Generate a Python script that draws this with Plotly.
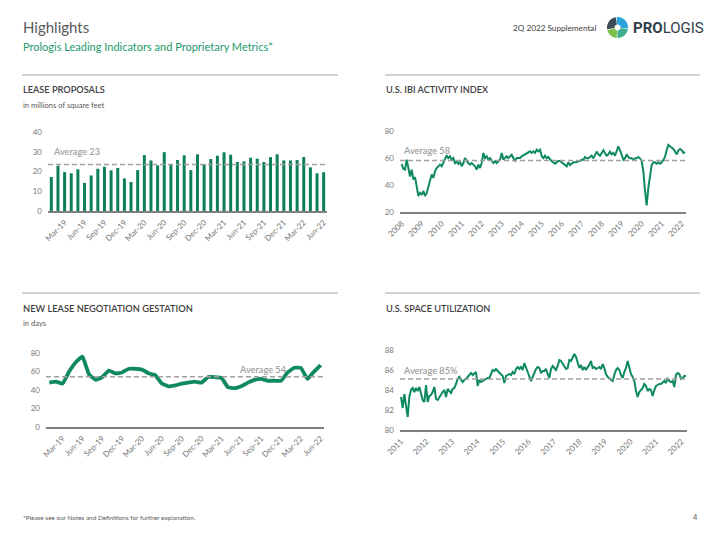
import numpy as np
import pandas as pd
import plotly.graph_objects as go

# ---------------- data ----------------
lease_months = [m.strftime("%b-%y") for m in pd.date_range("2019-01-01", "2022-06-01", freq="MS")]
lease_values = [17.2, 22.9, 19.7, 19.1, 21.1, 14.2, 18.0, 21.4, 22.4, 20.6, 21.8, 16.5, 14.7, 20.7,
                28.3, 25.6, 23.1, 29.8, 23.6, 25.8, 28.2, 20.7, 28.7, 23.8, 26.3, 28.0, 29.7, 28.5,
                24.8, 25.1, 27.0, 26.5, 24.8, 27.3, 28.7, 25.6, 25.6, 25.8, 27.3, 22.1, 19.1, 19.6]
lease_avg = 23.6
quarter_ticks = ["Mar-19", "Jun-19", "Sep-19", "Dec-19", "Mar-20", "Jun-20", "Sep-20", "Dec-20",
                 "Mar-21", "Jun-21", "Sep-21", "Dec-21", "Mar-22", "Jun-22"]

gest_months = lease_months
gest_values = [48, 49, 47, 60, 70, 76, 57, 51, 54, 61, 58, 59, 63, 63, 62, 58, 56, 47, 44, 45, 47,
               48, 49, 48, 54, 54, 53, 43, 42, 44, 48, 51, 52, 50, 50, 50, 59, 64, 64, 52, 60, 67]
gest_avg = 54.2

ibi_dates = pd.date_range("2008-01-01", periods=171, freq="MS")
ibi_values = [55.8, 52, 51.6, 59, 53, 46.5, 51.5, 44.2, 46, 40, 31.9, 34.3, 33.1, 35.6, 31.9, 34,
              39.3, 43, 47.9, 45.4, 50.4, 52.8, 54.1, 55.3, 54.1, 56.5, 59, 62.2, 60.2, 61.5, 59,
              60.2, 56.5, 57.8, 55.8, 57.3, 54.1, 56.5, 60.2, 57.8, 56.5, 55.3, 56.5, 55.3, 54.1,
              51.6, 55.3, 52.8, 56.5, 64, 60.2, 61.5, 59, 60.2, 57.8, 56.5, 57.8, 56.5, 57.8, 59,
              64, 59, 60.2, 61.5, 60.2, 61.5, 62.7, 60.2, 57.8, 60.2, 60.2, 60.2, 61.5, 62.2, 62.7,
              64, 64.7, 65.2, 64, 65.2, 64, 66.4, 65.2, 66.4, 61.5, 60.2,
              62, 60, 61, 59, 58, 57, 56, 57, 58, 58, 57, 56, 55, 54, 57, 55, 56, 57, 57, 57, 58,
              58, 59, 59, 61, 60, 60, 61, 62, 60, 63, 65, 63, 62, 64, 66, 64, 62, 63, 65, 63, 64,
              62, 66, 69, 66, 62, 59, 60, 63, 61, 60, 60, 59, 60, 60, 61, 60, 58, 50, 36, 25, 38,
              48, 55, 57, 57, 56, 57, 56, 57, 59, 61, 66, 70, 69, 68, 67, 65, 63, 66, 67, 66, 64, 65]
ibi_avg = 58.3
ibi_years = [str(y) for y in range(2008, 2023)]

util_values = [83.3, 82.2, 83.6, 82.3, 81.3, 83.3, 84.0, 84.2, 83.8, 84.2, 83.9, 84.3, 83.7, 83.0,
               82.8, 84.5, 82.8, 83.4, 83.5, 83.8, 84.3, 83.1, 83.0, 83.3, 83.6, 83.8, 84.0, 83.3,
               84.1, 83.9, 83.7, 84.1, 84.2, 84.6, 85.1, 85.3, 85.0, 84.8, 85.0, 85.1, 85.3, 85.5,
               85.7, 85.5, 85.7, 85.8, 84.4, 85.0, 84.8, 84.9, 85.0, 85.1, 85.2, 85.2, 85.6, 86.0,
               85.9, 86.1, 85.9, 85.7, 85.5, 85.4, 84.7, 85.4, 85.5, 85.6, 85.5, 85.8, 85.6, 86.1,
               86.3, 86.1, 86.3, 86.0, 86.7, 86.2, 85.7, 85.3, 84.9, 85.3, 85.8, 86.1, 86.3, 86.2,
               85.7, 85.9, 85.9,
               86.1, 85.6, 85.2, 86.1, 86.4, 86.2, 86.0, 86.4, 87.0, 86.9, 86.6, 86.4, 86.1, 86.2,
               87.0, 86.9, 87.3, 87.6, 87.3, 86.8, 86.2, 86.5, 86.0, 86.3, 86.0, 86.3, 86.5, 86.9,
               86.2, 86.3, 86.1, 86.2, 86.3, 86.1, 86.6, 86.2, 85.6, 85.3, 85.2, 85.0, 84.9, 85.5,
               86.0, 86.2, 86.0, 85.5, 85.2, 85.8, 86.2, 86.9, 86.2, 85.6, 85.3, 84.9, 83.9, 83.3,
               83.8, 84.0, 84.2, 84.6, 84.4, 83.9, 84.1, 84.0, 83.4, 84.0, 84.4, 84.5, 84.6, 84.6,
               84.8, 84.9, 84.7, 85.2, 84.9, 84.8, 84.9, 84.3, 85.5, 85.7, 85.6, 85.1, 85.2, 85.4, 85.4]
util_start, util_end = 2011.0, 2022.18
util_x = np.linspace(util_start, util_end, len(util_values))
util_avg = 85.1
util_years = list(range(2011, 2023))

# ---------------- styling ----------------
W, H = 720, 540
FONT = "Lato"
GREEN = "#0c7f56"
LINE_GREEN = "#0f8a5f"
TICK = "#787878"
AXIS = "#808080"
AVG = "#a0a0a0"


def px(x):
    return x / W


def py(y):
    return 1 - y / H


fig = go.Figure()

fig.add_trace(go.Bar(x=lease_months, y=lease_values, marker=dict(color=GREEN, line=dict(width=0)),
                     xaxis="x", yaxis="y", showlegend=False))
fig.add_trace(go.Scatter(x=ibi_dates, y=ibi_values, mode="lines", line=dict(color=LINE_GREEN, width=2),
                         xaxis="x2", yaxis="y2", showlegend=False))
fig.add_trace(go.Scatter(x=gest_months, y=gest_values, mode="lines",
                         line=dict(color=LINE_GREEN, width=3.8, shape="spline", smoothing=0.35),
                         xaxis="x3", yaxis="y3", showlegend=False))
fig.add_trace(go.Scatter(x=util_x, y=util_values, mode="lines", line=dict(color=LINE_GREEN, width=2),
                         xaxis="x4", yaxis="y4", showlegend=False))

xcommon = dict(showgrid=False, zeroline=False, showline=True, linecolor=AXIS, linewidth=1.5,
               ticks="", tickangle=-45, tickfont=dict(family=FONT, size=8, color=TICK),
               fixedrange=True, automargin=False, ticklabelstandoff=2)
ycommon = dict(showgrid=False, zeroline=False, showline=False, ticks="",
               tickfont=dict(family=FONT, size=8, color=TICK), fixedrange=True, automargin=False,
               ticklabelstandoff=5)

fig.update_layout(
    xaxis=dict(domain=[px(48), px(327)], anchor="y", type="category", range=[-0.5, 41.5],
               tickmode="array", tickvals=quarter_ticks, ticktext=quarter_ticks, **xcommon),
    yaxis=dict(domain=[py(211), py(132)], anchor="x", range=[0, 40], tickvals=[0, 10, 20, 30, 40], **ycommon),
    xaxis2=dict(domain=[px(400), px(686)], anchor="y2", type="date",
                range=["2007-12-01", "2022-03-20"], tickmode="array",
                tickvals=[f"{y}-01-01" for y in ibi_years], ticktext=ibi_years, **xcommon),
    yaxis2=dict(domain=[py(212), py(131.5)], anchor="x2", range=[20, 80], tickvals=[20, 40, 60, 80], **ycommon),
    xaxis3=dict(domain=[px(46), px(324)], anchor="y3", type="category", range=[-0.5, 41.5],
                tickmode="array", tickvals=quarter_ticks, ticktext=quarter_ticks, **xcommon),
    yaxis3=dict(domain=[py(427), py(353)], anchor="x3", range=[0, 80], tickvals=[0, 20, 40, 60, 80], **ycommon),
    xaxis4=dict(domain=[px(400), px(687)], anchor="y4",
                range=[util_start - 0.04, util_end + 0.04], tickmode="array",
                tickvals=util_years, ticktext=[str(y) for y in util_years], **xcommon),
    yaxis4=dict(domain=[py(430), py(350)], anchor="x4", range=[80, 88], tickvals=[80, 82, 84, 86, 88], **ycommon),
    bargap=0.55,
)

shapes = []
# average lines
for xr, yr, v in [("x", "y", lease_avg), ("x2", "y2", ibi_avg), ("x3", "y3", gest_avg), ("x4", "y4", util_avg)]:
    shapes.append(dict(type="line", xref=f"{xr} domain", yref=yr, x0=0, x1=1, y0=v, y1=v,
                       line=dict(color=AVG, width=1.5, dash="5px,3px"), layer="above"))
# separators
for (x0, x1, y) in [(22, 338, 75), (385, 700, 75), (22, 338, 293), (385, 700, 293)]:
    shapes.append(dict(type="line", xref="paper", yref="paper", x0=px(x0), x1=px(x1), y0=py(y), y1=py(y),
                       line=dict(color="#a6a6a6", width=1)))

# logo icon (decorative wedges)
cx, cy, r_out, r_in = 617.5, 27.5, 10.5, 3.0
wedges = [(100, 190, "#3b4b58"), (195, 265, "#7cc04b"), (270, 350, "#3fae8f"), (355, 95, "#2aa3dd")]
for a0, a1, col in wedges:
    if a1 < a0:
        a1 += 360
    angs = np.radians(np.linspace(a0, a1, 14))
    outer = [(cx + r_out * np.cos(a), cy - r_out * np.sin(a)) for a in angs]
    inner = [(cx + r_in * np.cos(a), cy - r_in * np.sin(a)) for a in angs[::-1]]
    pts = outer + inner
    path = "M " + " L ".join(f"{px(x):.5f},{py(y):.5f}" for x, y in pts) + " Z"
    shapes.append(dict(type="path", xref="paper", yref="paper", path=path, fillcolor=col,
                       line=dict(width=0)))

fig.update_layout(shapes=shapes)


def ann(text, x, y, size, color, xanchor="left", weight="normal", family=FONT):
    return dict(text=text, x=px(x), y=py(y), xref="paper", yref="paper", xanchor=xanchor, yanchor="middle",
                showarrow=False, font=dict(family=family, size=size, color=color, weight=weight))


annotations = [
    ann("Highlights", 21, 27, 15, "#595959"),
    ann("Prologis Leading Indicators and Proprietary Metrics*", 21, 47, 11, "#23996b"),
    ann("2Q 2022 Supplemental", 598, 28, 8.2, "#404040", xanchor="right"),
    ann("<b>PRO</b>LOGIS", 631, 28, 15, "#2f3e4b", family="Roboto"),
    ann("LEASE PROPOSALS", 21, 90, 9.2, "#404040", weight=600),
    ann("in millions of square feet", 21, 105, 7.6, "#595959"),
    ann("U.S. IBI ACTIVITY INDEX", 384, 90, 9.2, "#404040", weight=600),
    ann("NEW LEASE NEGOTIATION GESTATION", 21, 308, 9.3, "#404040", weight=600),
    ann("in days", 21, 323, 7.6, "#595959"),
    ann("U.S. SPACE UTILIZATION", 384, 308, 9.2, "#404040", weight=600),
    ann("Average 23", 51, 151, 9.2, AVG, weight=600),
    ann("Average 58", 401, 150, 9.2, AVG, weight=600),
    ann("Average 54", 237, 369, 9.2, AVG, weight=600),
    ann("Average 85%", 401, 370, 9.2, AVG, weight=600),
    ann("*Please see our Notes and Definitions for further explanation.", 21, 517, 6.4, "#595959"),
    ann("4", 700, 517, 7.5, "#595959", xanchor="right"),
]

fig.update_layout(
    annotations=annotations,
    width=W, height=H, margin=dict(l=0, r=0, t=0, b=0, pad=0),
    paper_bgcolor="white", plot_bgcolor="white",
    font=dict(family=FONT),
)

fig.write_html("out.html", config={"displayModeBar": False},
               post_script="document.body.style.margin='0px';document.body.style.padding='0px';")
